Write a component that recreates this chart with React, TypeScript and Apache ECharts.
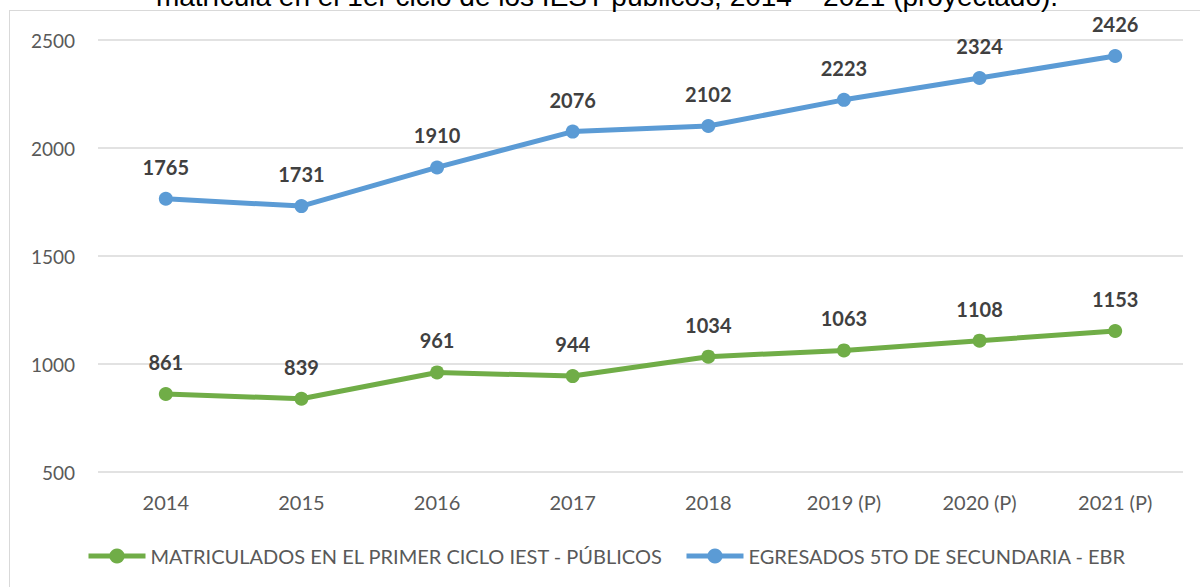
import React, { useEffect, useRef } from "react";
import * as echarts from "echarts";

const categories = ["2014", "2015", "2016", "2017", "2018", "2019 (P)", "2020 (P)", "2021 (P)"];
const matriculados = [861, 839, 961, 944, 1034, 1063, 1108, 1153];
const egresados = [1765, 1731, 1910, 2076, 2102, 2223, 2324, 2426];
const seriesNames = ["MATRICULADOS EN EL PRIMER CICLO IEST - PÚBLICOS", "EGRESADOS 5TO DE SECUNDARIA - EBR"];
const titleText = "matrícula en el 1er ciclo de los IEST públicos, 2014 – 2021 (proyectado).";

export default function App() {
  const ref = useRef<HTMLDivElement>(null);
  useEffect(() => {
    if (!ref.current) return;
    const chart = echarts.init(ref.current, undefined, { renderer: "svg" });
    const label = {
      show: true,
      position: "top",
      distance: 15,
      color: "#404040",
      fontWeight: "bold",
      fontSize: 20,
      fontFamily: "Lato",
    };
    chart.setOption({
      animation: false,
      backgroundColor: "#ffffff",
      textStyle: { fontFamily: "Lato" },
      graphic: [
        { type: "line", shape: { x1: 9, y1: 10.5, x2: 1200, y2: 10.5 }, style: { stroke: "#d9d9d9", lineWidth: 1 } },
        { type: "line", shape: { x1: 9.5, y1: 10, x2: 9.5, y2: 587 }, style: { stroke: "#d9d9d9", lineWidth: 1 } },
        {
          type: "text",
          x: 607,
          y: 10,
          style: {
            text: titleText,
            fill: "#000000",
            font: "28px 'Liberation Sans', Arial, sans-serif",
            align: "center",
            verticalAlign: "bottom",
          },
        },
      ],
      grid: { left: 98, right: 17, top: 40, bottom: 115 },
      legend: {
        left: 81,
        top: 541,
        itemWidth: 57,
        itemHeight: 19,
        itemGap: 21,
        lineStyle: { width: 5 },
        textStyle: { color: "#595959", fontSize: 20, fontFamily: "Lato" },
        data: seriesNames,
      },
      xAxis: {
        type: "category",
        data: categories,
        boundaryGap: true,
        axisLine: { show: false },
        axisTick: { show: false },
        axisLabel: { color: "#595959", fontSize: 20, margin: 20, fontFamily: "Lato" },
      },
      yAxis: {
        type: "value",
        min: 500,
        max: 2500,
        interval: 500,
        axisLine: { show: false },
        axisTick: { show: false },
        axisLabel: { color: "#595959", fontSize: 19, margin: 23, fontFamily: "Lato", formatter: (v: number) => String(v) },
        splitLine: { lineStyle: { color: "#d9d9d9", width: 1.5 } },
      },
      series: [
        {
          name: seriesNames[0],
          type: "line",
          data: matriculados,
          symbol: "circle",
          symbolSize: 14,
          lineStyle: { color: "#70AD47", width: 5 },
          itemStyle: { color: "#70AD47" },
          label,
        },
        {
          name: seriesNames[1],
          type: "line",
          data: egresados,
          symbol: "circle",
          symbolSize: 14,
          lineStyle: { color: "#5B9BD5", width: 5 },
          itemStyle: { color: "#5B9BD5" },
          label,
        },
      ],
    });
    return () => chart.dispose();
  }, []);
  return <div ref={ref} style={{ position: "fixed", left: 0, top: 0, width: 1200, height: 587 }} />;
}
